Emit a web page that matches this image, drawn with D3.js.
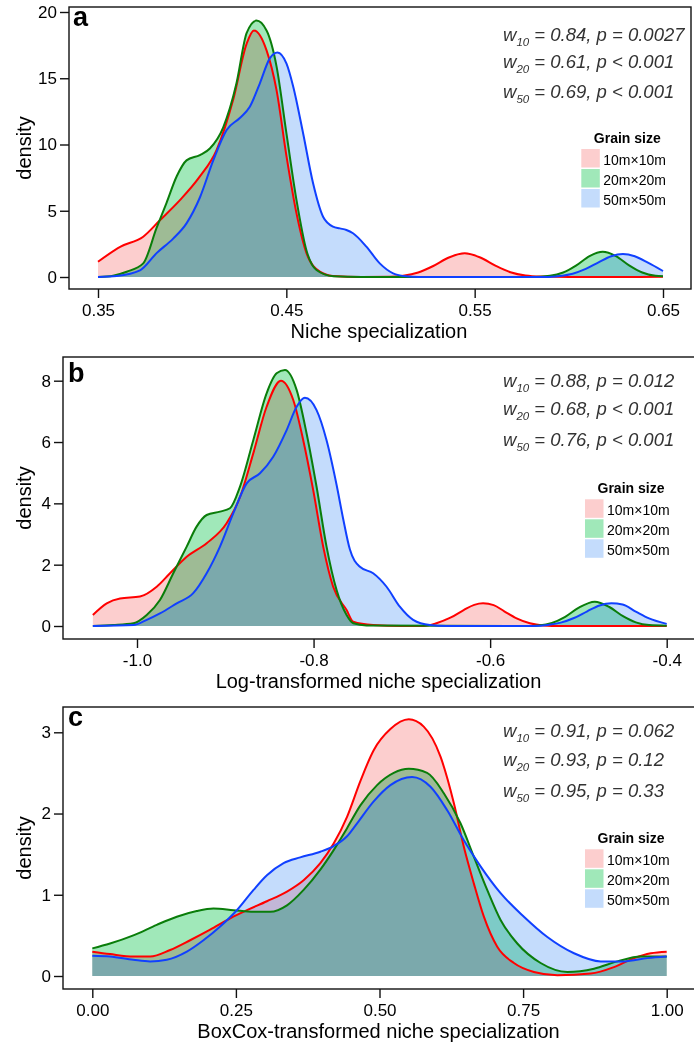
<!DOCTYPE html>
<html><head><meta charset="utf-8">
<script src="https://cdn.jsdelivr.net/npm/d3@7"></script>
<style>
body{margin:0;background:#fff}
svg{display:block;background:#fff}
text{font-family:"Liberation Sans",Arial,Helvetica,sans-serif}
</style>
</head><body>
<svg id="chart" width="694" height="1044"></svg>
<script>
// ---------------- data ----------------
const grainSizes = ["10m×10m", "20m×20m", "50m×50m"];
const grainSubs = ["10", "20", "50"];

// Panel a: Niche specialization
const aTicksX = [0.35, 0.45, 0.55, 0.65];
const aTicksY = [0, 5, 10, 15, 20];
const aRed = [[0.35,1.15],[0.362,2.29],[0.374,3.04],[0.383,4.3],[0.3935,5.8],[0.404,7.57],[0.413,9.6],[0.4218,13.4],[0.4289,17.6],[0.4328,18.6],[0.4395,17.1],[0.4448,14.1],[0.4501,9.1],[0.4554,4.8],[0.4607,1.8],[0.4678,0.4],[0.4747,0.08],[0.49,0],[0.505,0.02],[0.512,0.1],[0.52,0.34],[0.528,0.83],[0.536,1.45],[0.5447,1.79],[0.553,1.47],[0.561,0.86],[0.569,0.36],[0.577,0.11],[0.585,0.03],[0.6,0],[0.65,0.01]];
const aGreen = [[0.35,0],[0.358,0.1],[0.3652,0.4],[0.374,1.03],[0.3811,3.7],[0.3864,5.6],[0.3918,7.6],[0.397,8.8],[0.4041,9.2],[0.4094,9.7],[0.4165,11.3],[0.4235,14.6],[0.4289,18.4],[0.4341,19.35],[0.4395,18.6],[0.4448,15.9],[0.4501,10.8],[0.4554,5.8],[0.4607,2.0],[0.466,0.53],[0.475,0.06],[0.49,0],[0.58,0],[0.59,0.09],[0.597,0.34],[0.604,0.88],[0.611,1.58],[0.618,1.91],[0.625,1.58],[0.632,0.88],[0.639,0.34],[0.646,0.09],[0.65,0.05]];
const aBlue = [[0.35,0],[0.36,0.08],[0.3723,0.5],[0.3811,1.8],[0.3899,2.9],[0.397,4.05],[0.4041,6.0],[0.4112,8.8],[0.4183,11.1],[0.4253,12.0],[0.4306,12.85],[0.4359,14.6],[0.4412,16.5],[0.4453,16.95],[0.4501,16.1],[0.4536,14.4],[0.4589,10.85],[0.4642,7.07],[0.4695,4.55],[0.4748,3.8],[0.4784,3.67],[0.4819,3.55],[0.4854,3.3],[0.4925,2.29],[0.4996,1.03],[0.5067,0.28],[0.5138,0.05],[0.52,0],[0.588,0],[0.595,0.08],[0.602,0.25],[0.609,0.61],[0.616,1.13],[0.6225,1.57],[0.6287,1.74],[0.635,1.57],[0.642,1.08],[0.65,0.45]];
const aStats = [" = 0.84, p = 0.0027", " = 0.61, p < 0.001", " = 0.69, p < 0.001"];

// Panel b: Log-transformed
const bTicksX = [-1.0, -0.8, -0.6, -0.4];
const bTicksY = [0, 2, 4, 6, 8];
const bRed = [[-1.05,0.36],[-1.0343,0.74],[-1.0192,0.9],[-0.9966,0.96],[-0.9777,1.28],[-0.9626,1.72],[-0.9437,2.26],[-0.9211,2.7],[-0.8985,3.35],[-0.8834,4.2],[-0.8683,5.63],[-0.8532,7.15],[-0.837,8.0],[-0.823,7.37],[-0.8117,6.06],[-0.8004,4.43],[-0.7891,2.59],[-0.7778,1.28],[-0.7626,0.52],[-0.7551,0.14],[-0.7325,0.03],[-0.7,0],[-0.675,0],[-0.66,0.1],[-0.645,0.27],[-0.63,0.52],[-0.618,0.69],[-0.608,0.74],[-0.596,0.68],[-0.584,0.48],[-0.57,0.25],[-0.555,0.09],[-0.54,0.02],[-0.52,0],[-0.4,0]];
const bGreen = [[-1.05,0],[-1.027,0.03],[-1.004,0.09],[-0.989,0.36],[-0.974,0.85],[-0.9589,1.72],[-0.9437,2.59],[-0.9325,3.24],[-0.9211,3.62],[-0.906,3.73],[-0.8947,3.84],[-0.8834,4.54],[-0.8683,6.06],[-0.8532,7.59],[-0.8419,8.24],[-0.8324,8.35],[-0.8192,7.7],[-0.8079,6.28],[-0.7966,4.54],[-0.7853,2.59],[-0.7739,1.17],[-0.7626,0.36],[-0.755,0.09],[-0.74,0.02],[-0.56,0],[-0.545,0.02],[-0.53,0.1],[-0.515,0.3],[-0.5,0.59],[-0.4815,0.79],[-0.465,0.62],[-0.45,0.33],[-0.435,0.12],[-0.42,0.03],[-0.4,0.01]];
const bBlue = [[-1.05,0],[-1.004,0.03],[-0.989,0.2],[-0.974,0.41],[-0.955,0.74],[-0.9363,1.07],[-0.9211,1.72],[-0.906,2.59],[-0.891,3.67],[-0.8758,4.65],[-0.8607,4.98],[-0.8457,5.52],[-0.8305,6.39],[-0.8192,7.15],[-0.8098,7.44],[-0.7966,7.04],[-0.7853,6.06],[-0.7739,4.6],[-0.7665,3.5],[-0.7589,2.5],[-0.7475,1.93],[-0.7325,1.72],[-0.7173,1.28],[-0.7023,0.63],[-0.6872,0.2],[-0.6683,0.03],[-0.65,0],[-0.55,0],[-0.535,0.03],[-0.52,0.11],[-0.505,0.26],[-0.49,0.48],[-0.476,0.67],[-0.4626,0.74],[-0.45,0.7],[-0.435,0.47],[-0.42,0.25],[-0.4,0.07]];
const bStats = [" = 0.88, p = 0.012", " = 0.68, p < 0.001", " = 0.76, p < 0.001"];

// Panel c: BoxCox-transformed
const cTicksX = [0.00, 0.25, 0.50, 0.75, 1.00];
const cTicksY = [0, 1, 2, 3];
const cRed = [[0,0.3],[0.0309,0.27],[0.0715,0.24],[0.1006,0.24],[0.1355,0.32],[0.1703,0.44],[0.2052,0.57],[0.2401,0.71],[0.2692,0.81],[0.304,0.92],[0.3389,1.04],[0.3679,1.18],[0.397,1.39],[0.4202,1.63],[0.4435,1.96],[0.4667,2.4],[0.4899,2.78],[0.519,3.04],[0.551,3.16],[0.577,3.07],[0.6062,2.7],[0.6294,2.13],[0.6468,1.59],[0.6642,1.14],[0.6817,0.73],[0.705,0.36],[0.734,0.16],[0.7688,0.05],[0.8096,0.01],[0.8677,0.03],[0.9083,0.11],[0.9432,0.22],[0.9723,0.28],[1.0,0.3]];
const cGreen = [[0,0.34],[0.0309,0.4],[0.0715,0.5],[0.1122,0.63],[0.1471,0.73],[0.1819,0.8],[0.2109,0.83],[0.2458,0.81],[0.2807,0.79],[0.3098,0.79],[0.3389,0.87],[0.3679,1.06],[0.397,1.31],[0.4202,1.55],[0.4435,1.82],[0.4667,2.1],[0.4958,2.35],[0.5248,2.5],[0.551,2.55],[0.5829,2.5],[0.612,2.25],[0.641,1.88],[0.6642,1.47],[0.6875,1.06],[0.7108,0.69],[0.7399,0.4],[0.7805,0.16],[0.827,0.05],[0.8735,0.09],[0.9142,0.18],[0.9548,0.24],[1.0,0.24]];
const cBlue = [[0,0.25],[0.0309,0.24],[0.0715,0.2],[0.1006,0.18],[0.1297,0.2],[0.1646,0.3],[0.1935,0.44],[0.2226,0.61],[0.2517,0.81],[0.2807,1.06],[0.304,1.24],[0.333,1.39],[0.362,1.46],[0.397,1.53],[0.4202,1.6],[0.4435,1.72],[0.461,1.88],[0.4899,2.15],[0.519,2.35],[0.5568,2.45],[0.5888,2.33],[0.6179,2.04],[0.6468,1.67],[0.6759,1.35],[0.7108,1.02],[0.7514,0.73],[0.7922,0.48],[0.8386,0.28],[0.8851,0.18],[0.9257,0.18],[0.9665,0.22],[1.0,0.24]];
const cStats = [" = 0.91, p = 0.062", " = 0.93, p = 0.12", " = 0.95, p = 0.33"];

// ---------------- style ----------------
// red & green fills multiply; blue fill is a translucent overlay
const fillColors = ["#fccece", "#a0e8b9", "#1373f3"];
const fillOpacity = [1, 1, 0.25];
const fillBlend = ["multiply", "multiply", "normal"];
const lineColors = ["#ff0000", "#0a7d0a", "#1040ff"];

const panels = [
  {letter:"a", title:"Niche specialization", series:[aRed,aGreen,aBlue], tx:aTicksX, ty:aTicksY, stats:aStats,
   fmt:d => d.toFixed(2), xd:[0.35,0.65], xr:[98,663], yd:[0,20], yr:[277,12],
   box:{l:69,r:691,t:7,b:289}, letterPos:[73,26], statY:[40.5,67.5,98.3], legY:143},
  {letter:"b", title:"Log-transformed niche specialization", series:[bRed,bGreen,bBlue], tx:bTicksX, ty:bTicksY, stats:bStats,
   fmt:d => d.toFixed(1), xd:[-1.0,-0.4], xr:[137,666.7], yd:[0,8], yr:[626,380.7],
   box:{l:63,r:696,t:357,b:639}, letterPos:[68,382], statY:[386.7,415,446], legY:493.3},
  {letter:"c", title:"BoxCox-transformed niche specialization", series:[cRed,cGreen,cBlue], tx:cTicksX, ty:cTicksY, stats:cStats,
   fmt:d => d.toFixed(2), xd:[0,1], xr:[92.3,666.7], yd:[0,3], yr:[976,732.3],
   box:{l:63,r:696,t:707,b:989}, letterPos:[68,726], statY:[737.3,766,797.3], legY:843.3}
];

const svg = d3.select("#chart");
svg.append("rect").attr("width", 694).attr("height", 1044).attr("fill", "#fff");

panels.forEach((p, pi) => {
  const g = svg.append("g");
  const x = d3.scaleLinear().domain(p.xd).range(p.xr);
  const y = d3.scaleLinear().domain(p.yd).range(p.yr);

  const area = d3.area().x(d => x(d[0])).y0(y(0)).y1(d => y(d[1])).curve(d3.curveMonotoneX);
  const line = d3.line().x(d => x(d[0])).y(d => y(d[1])).curve(d3.curveMonotoneX);

  // fills
  p.series.forEach((s, i) => {
    g.append("path").attr("d", area(s)).attr("fill", fillColors[i]).attr("fill-opacity", fillOpacity[i])
      .attr("stroke", "none").style("mix-blend-mode", fillBlend[i]);
  });
  // lines
  p.series.forEach((s, i) => {
    g.append("path").attr("d", line(s)).attr("fill", "none").attr("stroke", lineColors[i])
      .attr("stroke-width", 2).attr("stroke-linejoin", "round");
  });

  // panel border
  g.append("rect").attr("x", p.box.l).attr("y", p.box.t)
    .attr("width", p.box.r - p.box.l).attr("height", p.box.b - p.box.t)
    .attr("fill", "none").attr("stroke", "#111").attr("stroke-width", 1.4);

  // axes
  const yAxis = d3.axisLeft(y).tickValues(p.ty).tickSize(9).tickPadding(3).tickFormat(d => String(d));
  const ya = g.append("g").attr("transform", `translate(${p.box.l},0)`).call(yAxis);
  const xAxis = d3.axisBottom(x).tickValues(p.tx).tickSize(9).tickPadding(6).tickFormat(p.fmt);
  const xa = g.append("g").attr("transform", `translate(0,${p.box.b})`).call(xAxis);
  [ya, xa].forEach(a => {
    a.select(".domain").remove();
    a.selectAll(".tick line").attr("stroke", "#111").attr("stroke-width", 1.4);
    a.selectAll(".tick text").attr("fill", "#000").style("font-size", "17px")
      .style("font-family", '"Liberation Sans", Arial, sans-serif');
  });

  // axis titles
  g.append("text").attr("x", (p.box.l + p.box.r) / 2 - 1).attr("y", p.box.b + 49)
    .attr("text-anchor", "middle").style("font-size", "20px").attr("fill", "#000").text(p.title);
  g.append("text").attr("transform", `translate(31,${(p.box.t + p.box.b) / 2}) rotate(-90)`)
    .attr("text-anchor", "middle").style("font-size", "20px").attr("fill", "#000").text("density");

  // panel letter
  g.append("text").attr("x", p.letterPos[0]).attr("y", p.letterPos[1])
    .style("font-size", "27px").style("font-weight", "bold").attr("fill", "#000").text(p.letter);

  // statistics
  p.stats.forEach((s, i) => {
    const t = g.append("text").attr("x", 503).attr("y", p.statY[i])
      .style("font-style", "italic").style("font-size", "18.5px").attr("fill", "#333");
    t.append("tspan").text("w");
    t.append("tspan").attr("dy", 5).style("font-size", "11.5px").text(grainSubs[i]);
    t.append("tspan").attr("dy", -5).text(s);
  });

  // legend
  const lx = pi === 0 ? 581.3 : 585;
  g.append("text").attr("x", lx + 46).attr("y", p.legY).attr("text-anchor", "middle")
    .style("font-size", "14px").style("font-weight", "bold").attr("fill", "#000").text("Grain size");
  grainSizes.forEach((lab, i) => {
    const top = p.legY + 6 + i * 20;
    g.append("rect").attr("x", lx).attr("y", top).attr("width", 18.5).attr("height", 18.5)
      .attr("fill", fillColors[i]).attr("fill-opacity", fillOpacity[i]);
    g.append("text").attr("x", lx + 22).attr("y", top + 16).style("font-size", "14px")
      .attr("fill", "#000").text(lab);
  });
});
</script>
</body></html>
